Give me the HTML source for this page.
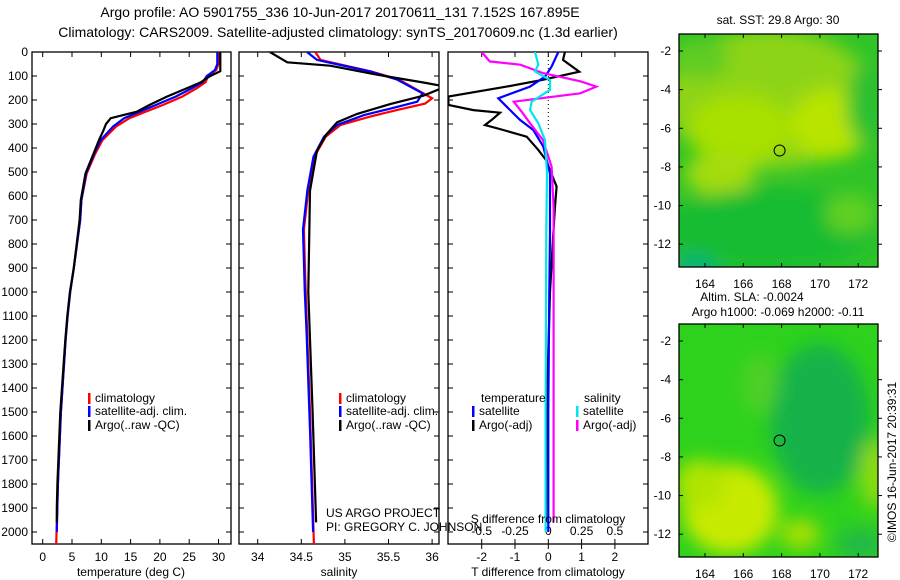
<!DOCTYPE html>
<html><head><meta charset="utf-8"><style>
html,body{margin:0;padding:0;background:#fff;}
svg{display:block;font-family:"Liberation Sans",sans-serif;}
</style></head><body>
<svg id="c" width="900" height="580" viewBox="0 0 900 580" xmlns="http://www.w3.org/2000/svg">
<defs>
<filter id="bl" x="-50%" y="-50%" width="200%" height="200%"><feGaussianBlur stdDeviation="9"/></filter>
<clipPath id="cp1"><rect x="32" y="52" width="199" height="492"/></clipPath>
<clipPath id="cp2"><rect x="239" y="52" width="200" height="492"/></clipPath>
<clipPath id="cp3"><rect x="448" y="52" width="200" height="492"/></clipPath>
<clipPath id="cm1"><rect x="679" y="34" width="199" height="233"/></clipPath>
<clipPath id="cm2"><rect x="679" y="324" width="199" height="233"/></clipPath>
</defs>
<text x="340" y="17" font-size="14" text-anchor="middle">Argo profile: AO 5901755_336 10-Jun-2017 20170611_131 7.152S 167.895E</text>
<text x="338" y="37" font-size="14" text-anchor="middle">Climatology: CARS2009. Satellite-adjusted climatology: synTS_20170609.nc (1.3d earlier)</text>
<g id="g"></g>
</svg>
<script>
// ---- data ----
const tClimDepth=[0,50,75,100,126,151,186,221,249,276,311,367,422,506,617,700,800,900,1000,1100,1200,1500,1800,2050];
const tClimVal=[30.1,30.0,29.6,28.2,27.8,26.3,23.8,20.5,17.5,14.8,12.5,10.2,9.0,7.5,6.6,6.4,5.85,5.3,4.7,4.25,3.9,3.1,2.6,2.3];
const tSatDepth=[0,50,75,100,126,151,186,221,249,276,311,367,422,506,617,700,800,900,1000,1100,1200,1500,1800,2000];
const tSatVal=[29.8,29.8,29.4,28.0,27.3,25.5,22.7,19.3,16.5,13.9,12.0,9.9,8.8,7.4,6.6,6.4,5.85,5.3,4.7,4.25,3.9,3.1,2.6,2.4];
const tArgoDepth=[0,80,100,126,151,186,221,249,276,300,330,367,422,506,617,700,800,900,1000,1100,1200,1500,1800,1900,1960];
const tArgoVal=[30.3,30.3,28.6,27.0,24.6,21.2,18.2,16.0,11.6,10.8,10.3,9.6,8.7,7.3,6.5,6.3,5.8,5.3,4.65,4.2,3.85,3.0,2.5,2.4,2.4];
const sSatDepth=[0,33,54,81,115,172,207,235,263,304,353,436,575,740,1000,1160,1575,2000];
const sSatVal=[34.565,34.68,34.95,35.29,35.6,35.89,35.83,35.53,35.22,34.91,34.76,34.64,34.57,34.52,34.54,34.56,34.6,34.635];
const sClimDepth=[0,33,54,81,115,193,215,240,268,304,353,436,575,740,1000,1500,2050];
const sClimVal=[34.66,34.72,34.97,35.3,35.62,36.0,35.92,35.62,35.3,34.95,34.78,34.65,34.58,34.53,34.55,34.6,34.645];
const sArgoDepth=[0,43,57,92,127,140,154,182,217,258,293,342,411,578,1000,1500,1960];
const sArgoVal=[34.14,34.34,34.83,35.33,35.9,36.09,36.09,35.9,35.52,35.14,34.91,34.79,34.68,34.6,34.58,34.63,34.67];
const dTArgoDepth=[0,33,82,117,144,186,221,242,253,283,304,325,353,408,450,561,644,756,1000,1500,1960];
const dTArgoVal=[0.5,0.44,0.93,-0.2,-1.25,-3,-3,-2.25,-1.45,-1.7,-1.9,-1.35,-0.65,-0.3,-0.07,0.25,0.2,0.15,0.05,-0.05,-0.07];
const dTSatDepth=[0,61,103,144,193,228,283,325,394,506,756,1000,1500,2000];
const dTSatVal=[0.3,0.1,-0.1,-0.55,-1.5,-1.25,-0.85,-0.45,-0.15,0.05,0.05,0.03,0.0,0.0];
const dSSatDepth=[0,53,81,117,158,207,242,297,367,506,756,1500,2000];
const dSSatVal=[-0.1,-0.075,-0.1,0.013,0.013,-0.125,-0.137,-0.075,-0.025,-0.01,-0.015,-0.02,-0.02];
const dSArgoDepth=[0,39,53,88,122,144,172,207,249,297,367,478,644,1000,1500,1960];
const dSArgoVal=[-0.5,-0.44,-0.21,-0.04,0.24,0.36,0.24,-0.26,-0.2,-0.137,-0.04,0.025,0.04,0.04,0.04,0.04];
const depthTicks=[0,100,200,300,400,500,600,700,800,900,1000,1100,1200,1300,1400,1500,1600,1700,1800,1900,2000];
const tTicks=[0,5,10,15,20,25,30];
const sTicks=[34,34.5,35,35.5,36];
const sTickLabels=["34","34.5","35","35.5","36"];
const dTTicks=[-2,-1,0,1,2];
const dSTicks=[-0.5,-0.25,0,0.25,0.5];
const dSTickLabels=["-0.5","-0.25","0","0.25","0.5"];
const lonTicks=[164,166,168,170,172];
const latTicks=[-2,-4,-6,-8,-10,-12];
const floatLon=167.895, floatLat=-7.152;

// ---- scales ----
const NS="http://www.w3.org/2000/svg";
const G=document.getElementById('g');
const Y=d=>52+0.24*d;
const XT=t=>42.7+5.86*t;
const XS=s=>257.7+87.2*(s-34);
const XD=t=>548.3+33.3*t;
const XDS=s=>548.3+133.2*s;
const LX=l=>705+19.15*(l-164);
const LY1=a=>51+19.32*(-2-a);
const LY2=a=>341+19.32*(-2-a);
function el(tag,attrs,parent){const e=document.createElementNS(NS,tag);for(const k in attrs)e.setAttribute(k,attrs[k]);(parent||G).appendChild(e);return e;}
function txt(x,y,s,size,anchor,parent){const e=el('text',{x:x,y:y,'font-size':size,'text-anchor':anchor||'middle'},parent);e.textContent=s;return e;}

function panel(x0,w,name){
  const b=el('rect',{x:x0,y:52,width:w,height:492,fill:'none',stroke:'#000','stroke-width':1.3});
  
  
  depthTicks.forEach(d=>{
    el('line',{x1:x0,x2:x0+5,y1:Y(d),y2:Y(d),stroke:'#000'});
    el('line',{x1:x0+w-5,x2:x0+w,y1:Y(d),y2:Y(d),stroke:'#000'});
  });
}
function line(ds,vs,xf,color,clip,name){
  const pts=ds.map((d,i)=>xf(vs[i]).toFixed(1)+','+Y(d).toFixed(1)).join(' ');
  const p=el('polyline',{points:pts,fill:'none',stroke:color,'stroke-width':2.2,'clip-path':'url(#'+clip+')'});
  
  
}
// panel 1
panel(32,199,'temperature-panel');
depthTicks.forEach(d=>{const t=txt(28,Y(d)+4,String(d),12,'end');});
tTicks.forEach(t=>{el('line',{x1:XT(t),x2:XT(t),y1:52,y2:57,stroke:'#000'});el('line',{x1:XT(t),x2:XT(t),y1:539,y2:544,stroke:'#000'});const l=txt(XT(t),561,String(t),12);});
let a=txt(131,576,'temperature (deg C)',12);
line(tClimDepth,tClimVal,XT,'#ff0000','cp1','temperature-climatology-line');
line(tSatDepth,tSatVal,XT,'#0000ff','cp1','temperature-satellite-line');
line(tArgoDepth,tArgoVal,XT,'#000000','cp1','temperature-argo-line');
// panel 2
panel(239,200,'salinity-panel');
sTicks.forEach((s,i)=>{el('line',{x1:XS(s),x2:XS(s),y1:52,y2:57,stroke:'#000'});el('line',{x1:XS(s),x2:XS(s),y1:539,y2:544,stroke:'#000'});const l=txt(XS(s),561,sTickLabels[i],12);});
a=txt(339,576,'salinity',12);
line(sClimDepth,sClimVal,XS,'#ff0000','cp2','salinity-climatology-line');
line(sSatDepth,sSatVal,XS,'#0000ff','cp2','salinity-satellite-line');
line(sArgoDepth,sArgoVal,XS,'#000000','cp2','salinity-argo-line');
a=txt(326,517,'US ARGO PROJECT',12,'start');
a=txt(326,531,'PI: GREGORY C. JOHNSON',12,'start');
// panel 3
panel(448,200,'difference-panel');
el('line',{x1:XD(0),x2:XD(0),y1:52,y2:Y(330),stroke:'#000','stroke-dasharray':'1,3'});
dTTicks.forEach(t=>{el('line',{x1:XD(t),x2:XD(t),y1:52,y2:57,stroke:'#000'});el('line',{x1:XD(t),x2:XD(t),y1:544,y2:549,stroke:'#000'});const l=txt(XD(t),561,String(t),12);});
dSTicks.forEach((s,i)=>{el('line',{x1:XDS(s),x2:XDS(s),y1:539,y2:544,stroke:'#000'});const l=txt(XDS(s),535,dSTickLabels[i],12);});
line(dTArgoDepth,dTArgoVal,XD,'#000000','cp3','t-difference-argo-line');
line(dTSatDepth,dTSatVal,XD,'#0000ff','cp3','t-difference-satellite-line');
line(dSArgoDepth,dSArgoVal,XDS,'#ff00ff','cp3','s-difference-argo-line');
line(dSSatDepth,dSSatVal,XDS,'#00e5ee','cp3','s-difference-satellite-line');
a=txt(548,523,'S difference from climatology',12);
a=txt(548,576,'T difference from climatology',12);

// legends
function legend(x,y,color,label,name){
  el('rect',{x:x,y:y-9,width:2.5,height:11,fill:color});
  const t=txt(x+7,y,label,12,'start');
  
  
}
[[88,'temperature'],[339,'salinity']].forEach(([x,p])=>{
  legend(x,402,'#ff0000','climatology','legend-'+p+'-climatology');
  legend(x,415,'#0000ff','satellite-adj. clim.','legend-'+p+'-satellite');
  legend(x,429,'#000000','Argo(..raw -QC)','legend-'+p+'-argo');
});
a=txt(481,402,'temperature',12,'start');
legend(472,415,'#0000ff','satellite','legend-dt-satellite');
legend(472,429,'#000000','Argo(-adj)','legend-dt-argo');
a=txt(584,402,'salinity',12,'start');
legend(576,415,'#00e5ee','satellite','legend-ds-satellite');
legend(576,429,'#ff00ff','Argo(-adj)','legend-ds-argo');

// maps
function map(y0,LY,clip,blobs,base,name,titleLines){
  const gm=el('g',{'clip-path':'url(#'+clip+')'});
  
  
  el('rect',{x:679,y:y0,width:199,height:233,fill:base},gm);
  const gb=el('g',{filter:'url(#bl)'},gm);
  blobs.forEach(b=>el('ellipse',{cx:b[0],cy:y0+b[1],rx:b[2],ry:b[3],fill:b[4]},gb));
  el('circle',{cx:LX(floatLon),cy:LY(floatLat),r:5.5,fill:'none',stroke:'#000','stroke-width':1});
  el('rect',{x:679,y:y0,width:199,height:233,fill:'none',stroke:'#000','stroke-width':1.3});
  lonTicks.forEach(l=>{el('line',{x1:LX(l),x2:LX(l),y1:y0,y2:y0+4,stroke:'#000'});el('line',{x1:LX(l),x2:LX(l),y1:y0+229,y2:y0+233,stroke:'#000'});const t=txt(LX(l),y0+254,String(l),12);});
  latTicks.forEach(v=>{el('line',{x1:679,x2:683,y1:LY(v),y2:LY(v),stroke:'#000'});el('line',{x1:878,x2:882,y1:LY(v),y2:LY(v),stroke:'#000'});const t=txt(671,LY(v)+4,String(v),12,'end');});
  titleLines.forEach(([s,y,x])=>{const t=txt(x,y,s,12);});
}
map(34,LY1,'cm1',[
  [770,65,105,70,'#8ed414'],[740,95,50,35,'#a8e000'],[830,90,40,35,'#b8e400'],[720,140,35,22,'#a4dc08'],
  [865,70,18,40,'#2cc030'],[700,25,30,20,'#60cc20'],
  [770,195,110,40,'#18bc30'],[695,238,25,18,'#10b478'],[850,180,25,20,'#60d020']
],'#30c428','sst-map',[['sat. SST: 29.8 Argo: 30',24,778]]);
map(324,LY2,'cm2',[
  [820,95,50,75,'#16b248'],[760,60,18,30,'#50d028'],[730,185,48,45,'#c8ea00'],[700,160,25,25,'#b0e400'],
  [800,210,20,15,'#a8e000'],[875,150,15,35,'#8edc10'],[860,220,25,15,'#20b848']
],'#2ed21c','sla-map',[['Altim. SLA: -0.0024',301,752],['Argo h1000: -0.069 h2000: -0.11',316,778]]);
a=txt(0,0,'\u00A9IMOS 16-Jun-2017 20:39:31',12);
a.setAttribute('transform','translate(896,462) rotate(-90)');


</script>
</body></html>
